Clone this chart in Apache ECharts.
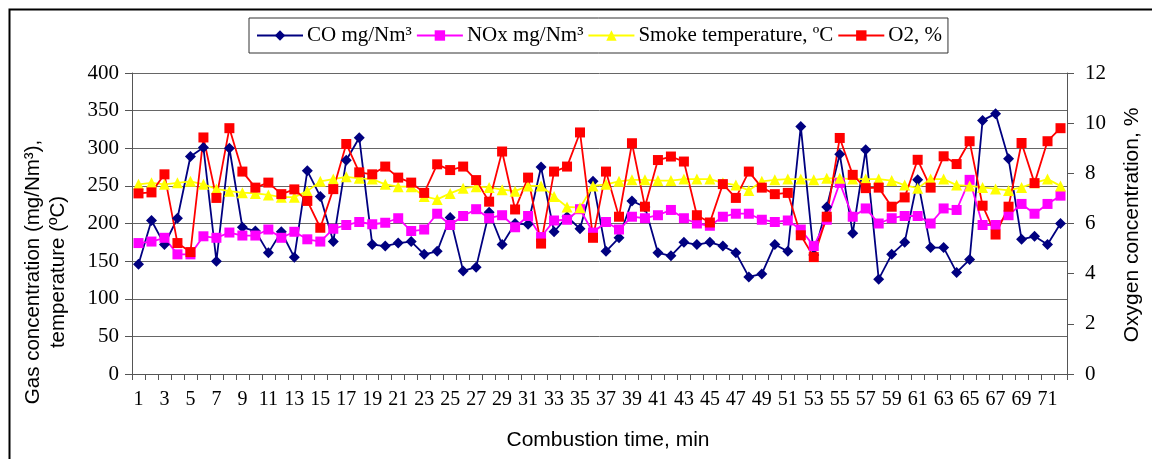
<!DOCTYPE html>
<html><head><meta charset="utf-8">
<script src="https://cdn.jsdelivr.net/npm/echarts@6/dist/echarts.min.js"></script>
<style>html,body{margin:0;padding:0;background:#fff}#c{width:1152px;height:459px}</style>
</head><body><div id="c"></div>
<script>
const categories = Array.from({length:72},(_,i)=>String(i+1));
const coValues = [146,204,172,207,289,301,150,300,195,190,161,189,155,270,236,176,284,314,172,170,174,176,159,163,208,137,142,215,172,200,199,275,189,209,193,256,163,181,230,222,161,157,175,172,175,170,161,129,133,172,163,329,158,222,292,187,298,126,159,175,258,168,168,135,152,337,346,286,179,183,172,200];
const noxValues = [174,176,181,159,159,183,181,188,184,184,192,181,189,179,176,193,198,202,199,201,207,190,192,213,198,210,219,207,211,195,210,182,204,205,219,188,202,192,209,207,211,218,207,200,197,209,213,213,205,202,204,192,170,205,254,209,220,200,207,210,210,200,220,218,258,198,198,211,226,213,226,237];
const smokeValues = [252,254,252,254,256,252,246,243,241,240,238,235,235,243,256,259,262,260,259,252,249,249,236,232,240,247,249,248,245,243,250,250,236,222,221,250,252,256,258,258,257,257,259,259,259,254,251,244,256,258,259,259,258,260,260,259,259,259,257,251,247,259,259,251,250,248,246,244,248,254,259,250];
const o2Values = [7.2,7.24,7.96,5.22,4.86,9.43,7.02,9.8,8.07,7.43,7.63,7.17,7.36,6.9,5.83,7.37,9.17,8.04,7.96,8.27,7.83,7.63,7.22,8.36,8.13,8.27,7.73,6.87,8.87,6.56,7.83,5.2,8.07,8.27,9.63,5.43,8.07,6.27,9.2,6.67,8.53,8.67,8.47,6.33,6.04,7.57,7.02,8.07,7.43,7.17,7.22,5.53,4.66,6.27,9.41,7.94,7.41,7.43,6.67,7.04,8.54,7.43,8.68,8.37,9.28,6.71,5.56,6.67,9.21,7.61,9.28,9.8];
const seriesNames = ['CO mg/Nm³','NOx mg/Nm³','Smoke temperature, ºC','O2, %'];

const serif = 'Liberation Serif';
const chart = echarts.init(document.getElementById('c'));
function mk(name, data, color, symbol, size, yIdx){
  return {name, type:'line', data, yAxisIndex:yIdx, symbol, symbolSize:size,
    showAllSymbol:true, animation:false,
    lineStyle:{color, width:1.8}, itemStyle:{color, borderWidth:0}};
}
chart.setOption({
  animation:false,
  backgroundColor:'#fff',
  grid:{left:132, right:85, top:73, bottom:85},
  legend:{
    left:249, top:18,
    padding:[6,6,6,7],
    borderColor:'#333', borderWidth:1, itemGap:4,
    itemWidth:46, itemHeight:13,
    textStyle:{fontFamily:serif, fontSize:21, color:'#000', padding:[0,0,0,-1], lineHeight:23},
    data:seriesNames
  },
  xAxis:{
    type:'category', data:categories, boundaryGap:true,
    axisLine:{lineStyle:{color:'#555', width:1}},
    axisTick:{show:true, interval:0, length:6, lineStyle:{color:'#555'}},
    axisLabel:{interval:1, fontFamily:serif, fontSize:20, color:'#000', margin:16},
    splitLine:{show:false}
  },
  yAxis:[
    {type:'value', min:0, max:400, interval:50,
     axisLine:{show:true, lineStyle:{color:'#555'}},
     axisTick:{show:true, length:7, lineStyle:{color:'#555'}},
     axisLabel:{fontFamily:serif, fontSize:21, color:'#000', margin:13},
     splitLine:{show:true, lineStyle:{color:'#666', width:1}}},
    {type:'value', min:0, max:12, interval:2, position:'right',
     axisLine:{show:true, lineStyle:{color:'#555'}},
     axisTick:{show:true, length:7, lineStyle:{color:'#555'}},
     axisLabel:{fontFamily:serif, fontSize:21, color:'#000', margin:18},
     splitLine:{show:false}}
  ],
  series:[
    mk(seriesNames[0], coValues, '#000080', 'diamond', 11, 0),
    mk(seriesNames[1], noxValues, '#FF00FF', 'rect', 10, 0),
    mk(seriesNames[2], smokeValues, '#FFFF00', 'triangle', 11, 0),
    mk(seriesNames[3], o2Values, '#FF0000', 'rect', 10, 1)
  ],
  graphic:[
    {type:'rect', left:7, top:7, shape:{width:1160, height:470}, style:{fill:'none', stroke:'#000', lineWidth:2}, silent:true},
    {type:'text', x:33, y:272, rotation:Math.PI/2, style:{text:'Gas concentration (mg/Nm³),', font:'20.5px "Liberation Sans"', fill:'#000', align:'center', verticalAlign:'middle'}},
    {type:'text', x:58, y:272, rotation:Math.PI/2, style:{text:'temperature (ºC)', font:'20.5px "Liberation Sans"', fill:'#000', align:'center', verticalAlign:'middle'}},
    {type:'text', x:1132, y:225, rotation:Math.PI/2, style:{text:'Oxygen concentration, %', font:'21px "Liberation Sans"', fill:'#000', align:'center', verticalAlign:'middle'}},
    {type:'text', x:608, y:440, style:{text:'Combustion time, min', font:'21px "Liberation Sans"', fill:'#000', align:'center', verticalAlign:'middle'}}
  ]
});
</script></body></html>
